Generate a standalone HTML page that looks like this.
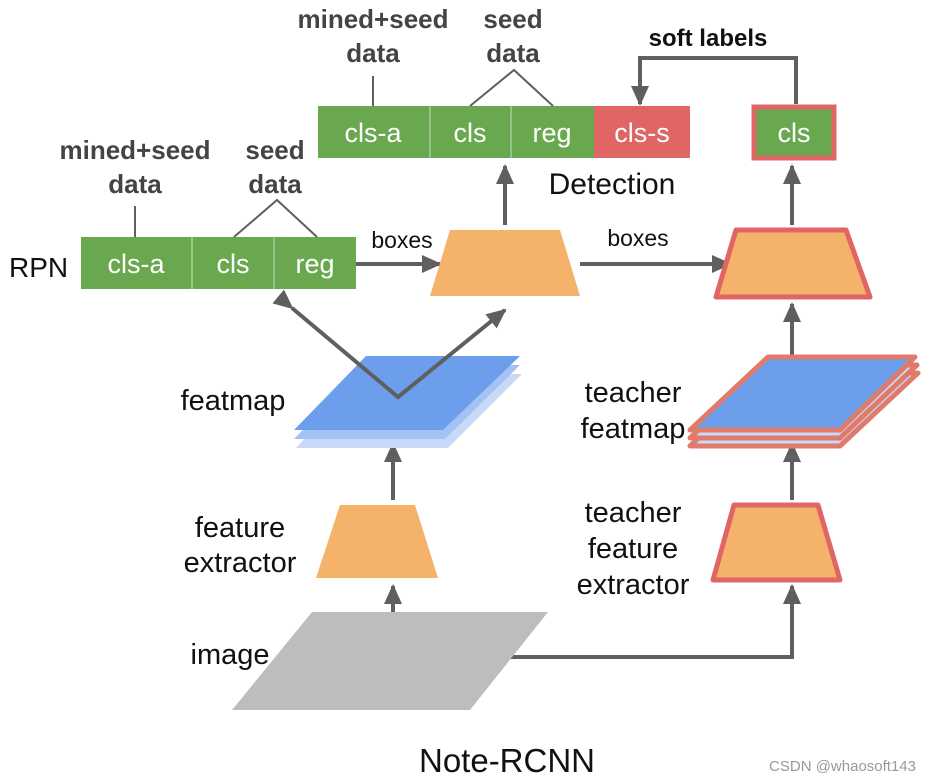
<!DOCTYPE html>
<html><head><style>
html,body{margin:0;padding:0;background:#fff;width:930px;height:782px;overflow:hidden}
svg{display:block;font-family:"Liberation Sans",sans-serif}
.w{fill:#fff;font-size:27px;text-anchor:middle}
.b{fill:#444;font-size:26px;font-weight:bold;text-anchor:middle}
.t{fill:#111;font-size:29px;text-anchor:middle}
</style></head><body>
<svg width="930" height="782" viewBox="0 0 930 782">
<defs>
<marker id="a" viewBox="0 0 20 20" refX="18" refY="10" markerWidth="20" markerHeight="20" orient="auto" markerUnits="userSpaceOnUse">
<path d="M0,1 L20,10 L0,19 z" fill="#5f5f5f"/>
</marker>
</defs>
<g stroke="#5f5f5f" stroke-width="4" fill="none">
<line x1="393" y1="655" x2="393" y2="586" marker-end="url(#a)"/>
<line x1="393" y1="500" x2="393" y2="444" marker-end="url(#a)"/>
<polyline points="470,657 792,657 792,586" marker-end="url(#a)"/>
<line x1="792" y1="500" x2="792" y2="444" marker-end="url(#a)"/>
<line x1="792" y1="385" x2="792" y2="304" marker-end="url(#a)"/>
<line x1="792" y1="225" x2="792" y2="166" marker-end="url(#a)"/>
<line x1="505" y1="225" x2="505" y2="166" marker-end="url(#a)"/>
<line x1="356" y1="264" x2="440" y2="264" marker-end="url(#a)"/>
<line x1="580" y1="264" x2="730" y2="264" marker-end="url(#a)"/>
<polyline points="796,104 796,58 640,58 640,104" marker-end="url(#a)"/>
</g>
<polygon points="312,612 548,612 470,710 232,710" fill="#bdbdbd"/>
<polygon points="340,505 415,505 438,578 316,578" fill="#f4b26a"/>
<polygon points="734,505 818,505 840,580 713,580" fill="#f4b26a" stroke="#e06666" stroke-width="5" stroke-linejoin="round"/>
<polygon points="366,374 522,374 448,448 296,448" fill="#c8d9f8"/>
<polygon points="366,365 520,365 445,439 294,439" fill="#a4c2f4"/>
<polygon points="366,356 520,356 443,430 294,430" fill="#6d9eeb"/>
<g stroke="#e07b6a" stroke-width="5" stroke-linejoin="round">
<polygon points="768,373 918,373 840,446 690,446" fill="#c8d9f8"/>
<polygon points="768,365 917,365 840,438 690,438" fill="#c8d9f8"/>
<polygon points="768,357 915,357 840,430 690,430" fill="#6d9eeb"/>
</g>
<polyline points="292,308 398,397 505,310" fill="none" stroke="#5f5f5f" stroke-width="4" marker-start="url(#a)" marker-end="url(#a)"/>
<polygon points="450,230 560,230 580,296 430,296" fill="#f4b26a"/>
<polygon points="736,230 846,230 870,297 716,297" fill="#f4b26a" stroke="#e06666" stroke-width="5" stroke-linejoin="round"/>
<rect x="81" y="237" width="275" height="52" fill="#6aa84f"/>
<line x1="192" y1="237" x2="192" y2="289" stroke="#a8cc98" stroke-width="1.5"/>
<line x1="274" y1="237" x2="274" y2="289" stroke="#a8cc98" stroke-width="1.5"/>
<text class="w" x="136" y="273">cls-a</text>
<text class="w" x="233" y="273">cls</text>
<text class="w" x="315" y="273">reg</text>
<rect x="318" y="106" width="276" height="52" fill="#6aa84f"/>
<rect x="594" y="106" width="96" height="52" fill="#e06666"/>
<line x1="430" y1="106" x2="430" y2="158" stroke="#a8cc98" stroke-width="1.5"/>
<line x1="511" y1="106" x2="511" y2="158" stroke="#a8cc98" stroke-width="1.5"/>
<text class="w" x="373" y="142">cls-a</text>
<text class="w" x="470" y="142">cls</text>
<text class="w" x="552" y="142">reg</text>
<text class="w" x="642" y="142">cls-s</text>
<rect x="754" y="107" width="80" height="51" fill="#6aa84f" stroke="#e06666" stroke-width="5"/>
<text class="w" x="794" y="142">cls</text>
<g stroke="#5f5f5f" stroke-width="2" fill="none">
<line x1="135" y1="206" x2="135" y2="237"/>
<polyline points="234,237 277,200 317,237"/>
<line x1="373" y1="76" x2="373" y2="106"/>
<polyline points="470,106 514,70 553,106"/>
</g>
<text class="b" x="135" y="159">mined+seed</text>
<text class="b" x="135" y="193">data</text>
<text class="b" x="275" y="159">seed</text>
<text class="b" x="275" y="193">data</text>
<text class="b" x="373" y="28">mined+seed</text>
<text class="b" x="373" y="62">data</text>
<text class="b" x="513" y="28">seed</text>
<text class="b" x="513" y="62">data</text>
<text x="708" y="46" style="fill:#111;font-size:24px;font-weight:bold;text-anchor:middle">soft labels</text>
<text x="612" y="194" style="fill:#111;font-size:30px;text-anchor:middle">Detection</text>
<text x="9" y="277" style="fill:#111;font-size:28px">RPN</text>
<text x="402" y="248" style="fill:#111;font-size:23px;text-anchor:middle">boxes</text>
<text x="638" y="246" style="fill:#111;font-size:23px;text-anchor:middle">boxes</text>
<text class="t" x="233" y="410">featmap</text>
<text class="t" x="240" y="537">feature</text>
<text class="t" x="240" y="572">extractor</text>
<text class="t" x="230" y="664">image</text>
<text class="t" x="633" y="402">teacher</text>
<text class="t" x="633" y="438">featmap</text>
<text class="t" x="633" y="522">teacher</text>
<text class="t" x="633" y="558">feature</text>
<text class="t" x="633" y="594">extractor</text>
<text x="507" y="772" style="fill:#111;font-size:33px;text-anchor:middle">Note-RCNN</text>
<text x="916" y="771" style="fill:#999;font-size:15px;text-anchor:end">CSDN @whaosoft143</text>
</svg>
</body></html>
